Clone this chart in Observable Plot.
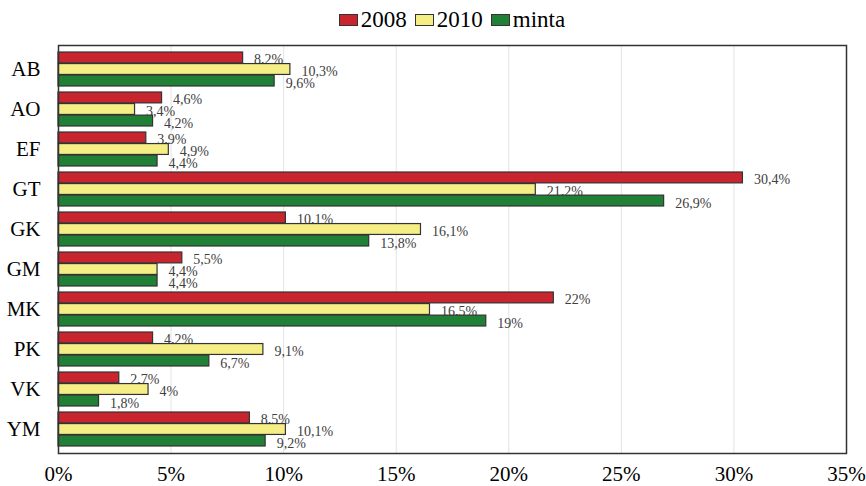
<!DOCTYPE html>
<html>
<head>
<meta charset="utf-8">
<script src="https://cdn.jsdelivr.net/npm/d3@7"></script>
<script src="https://cdn.jsdelivr.net/npm/@observablehq/plot@0.6"></script>
<style>
  html, body { margin: 0; padding: 0; background: #fff; }
  #legend { height: 36px; display: flex; justify-content: center; align-items: center; font-family: "Liberation Serif", "Times New Roman", "DejaVu Serif", serif; font-size: 23px; color: #000; padding-left: 38px; padding-top: 4px; box-sizing: border-box; }
  .item { display: flex; align-items: center; margin: 0 4px; }
  .sw { width: 17px; height: 10px; border: 1.5px solid #333; margin-right: 3px; }
  svg { display: block; }
</style>
</head>
<body>
<div id="legend"></div>
<div id="chart"></div>
<script>
const categories = ["AB","AO","EF","GT","GK","GM","MK","PK","VK","YM"];
const series = ["2008","2010","minta"];
const v2008 = [8.2,4.6,3.9,30.4,10.1,5.5,22,4.2,2.7,8.5];
const v2010 = [10.3,3.4,4.9,21.2,16.1,4.4,16.5,9.1,4,10.1];
const vMinta = [9.6,4.2,4.4,26.9,13.8,4.4,19,6.7,1.8,9.2];
const xTicks = [0,5,10,15,20,25,30,35];
const colors = ["#c9252f","#f4ee84","#208036"];

const values = [v2008, v2010, vMinta];
const data = [];
series.forEach((s, i) => categories.forEach((c, j) => data.push({category: c, series: s, value: values[i][j]})));

const W = 866, H = 450, mt = 9, mb = 33, ml = 58, mr = 20;
const pIn = 0.15, pOut = 0.075;
const step = (H - mt - mb) / (categories.length - pIn + 2 * pOut);
const bw = step * (1 - pIn) / 3;

const fmt = v => String(v).replace(".", ",") + "%";
const serif = "'Liberation Serif', 'Times New Roman', 'DejaVu Serif', serif";

const marks = [
  Plot.ruleX(xTicks.filter(t => t > 0 && t < 35), {stroke: "#e3e3e3", strokeWidth: 1})
];
series.forEach((s, i) => {
  const d = data.filter(r => r.series === s);
  marks.push(Plot.barX(d, {
    x: "value", y: "category", fill: "series",
    stroke: "#333", strokeWidth: 1.2,
    insetTop: i * bw, insetBottom: (2 - i) * bw
  }));
  marks.push(Plot.text(d, {
    x: "value", y: "category", text: r => fmt(r.value),
    dx: 11, dy: (i - 1) * bw + 2, textAnchor: "start",
    fill: "#404040", fontSize: 14, fontFamily: serif
  }));
});
marks.push(Plot.frame({stroke: "#333", strokeWidth: 1.5}));

const chart = Plot.plot({
  width: W, height: H,
  marginTop: mt, marginBottom: mb, marginLeft: ml, marginRight: mr,
  style: {fontFamily: serif, fontSize: "21px", color: "#000", background: "#fff"},
  x: {domain: [0, 35], ticks: xTicks, tickFormat: d => d + "%", tickSize: 0, tickPadding: 13, label: null},
  y: {domain: categories, paddingInner: pIn, paddingOuter: pOut, tickSize: 0, tickPadding: 18, label: null},
  color: {domain: series, range: colors},
  marks
});
document.getElementById("chart").appendChild(chart);

const leg = document.getElementById("legend");
series.forEach((s, i) => {
  const it = document.createElement("div");
  it.className = "item";
  const sw = document.createElement("div");
  sw.className = "sw";
  sw.style.background = colors[i];
  const t = document.createElement("span");
  t.textContent = s;
  it.appendChild(sw); it.appendChild(t);
  leg.appendChild(it);
});
</script>
</body>
</html>
